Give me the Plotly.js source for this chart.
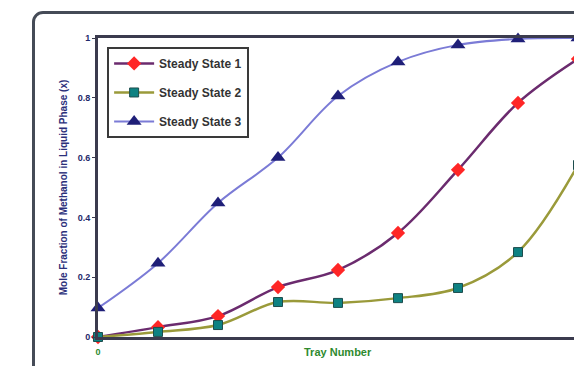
<!DOCTYPE html>
<html>
<head>
<meta charset="utf-8">
<script src="https://cdn.plot.ly/plotly-3.0.1.min.js"></script>
<style>
  html, body { margin: 0; padding: 0; width: 574px; height: 366px; overflow: hidden; background: #fff; }
  #wrap { position: relative; width: 574px; height: 366px; overflow: hidden; }
  #chart { position: absolute; left: 0; top: 0; }
  #frame { position: absolute; left: 32px; top: 11px; width: 700px; height: 500px;
           border: 3px solid #454b57; border-radius: 11px; pointer-events: none; }
</style>
</head>
<body>
<div id="wrap">
  <div id="chart"></div>
  <div id="frame"></div>
</div>
<script>
// Data
const trays = [0, 1, 2, 3, 4, 5, 6, 7, 8];
const steadyState1 = [0.0, 0.033, 0.07, 0.167, 0.224, 0.348, 0.559, 0.783, 0.93];
const steadyState2 = [0.0, 0.017, 0.04, 0.117, 0.114, 0.13, 0.164, 0.284, 0.575];
const steadyState3 = [0.097, 0.247, 0.448, 0.60, 0.806, 0.92, 0.977, 0.997, 1.0];
const seriesNames = ['Steady State 1', 'Steady State 2', 'Steady State 3'];
const yTickVals = [0, 0.2, 0.4, 0.6, 0.8, 1];
const yTickText = ['0', '0.2', '0.4', '0.6', '0.8', '1'];
const xTickVals = [0];
const xTickText = ['0'];
const xTitle = 'Tray Number';
const yTitle = 'Mole Fraction of Methanol in Liquid Phase (x)';

const FONT = 'Liberation Sans, Arial, sans-serif';

const traces = [
  {
    x: trays, y: steadyState1, name: seriesNames[0], legendgroup: 'a',
    mode: 'lines+markers', cliponaxis: false,
    line: { color: '#6b2b6e', width: 2.5, shape: 'spline', smoothing: 1 },
    marker: { symbol: 'diamond', size: 11, color: '#ff2626', line: { width: 0 } }
  },
  {
    x: trays, y: steadyState2, name: seriesNames[1], legendgroup: 'b',
    mode: 'lines+markers', cliponaxis: false,
    line: { color: '#9a9a3a', width: 2.5, shape: 'spline', smoothing: 1 },
    marker: { symbol: 'square', size: 9, color: '#0e8282', line: { width: 1, color: '#1d4d4d' } }
  },
  {
    x: trays, y: steadyState3, name: seriesNames[2], legendgroup: 'c',
    mode: 'lines+markers', cliponaxis: false,
    line: { color: '#7b7bd6', width: 2, shape: 'spline', smoothing: 1 },
    marker: { symbol: 'triangle-up', size: 13, color: '#1f1f78', line: { width: 0 } }
  }
];

const layout = {
  width: 600, height: 366,
  margin: { l: 98, r: 22, t: 38, b: 29 },
  paper_bgcolor: 'rgba(0,0,0,0)', plot_bgcolor: '#ffffff',
  font: { family: FONT, size: 9, color: '#222' },
  showlegend: true,
  legend: {
    x: 0.019, y: 0.97, xanchor: 'left', yanchor: 'top',
    bgcolor: '#ffffff', bordercolor: '#3a3a3a', borderwidth: 2,
    font: { family: FONT, size: 12, color: '#333', weight: 'bold' },
    tracegroupgap: 10, itemwidth: 40
  },
  xaxis: {
    range: [0, 8], tickvals: xTickVals, ticktext: xTickText,
    showgrid: false, zeroline: false, showline: true, mirror: true,
    linecolor: '#3b3b4e', linewidth: 3, ticks: '', ticklabelstandoff: 4,
    tickfont: { family: FONT, size: 9, color: '#2f8a2f', weight: 'bold' },
    fixedrange: true
  },
  yaxis: {
    range: [0, 1], tickvals: yTickVals, ticktext: yTickText,
    showgrid: false, zeroline: false, showline: true, mirror: true,
    linecolor: '#3b3b4e', linewidth: 3, ticks: 'outside', ticklen: 3, tickwidth: 1, tickcolor: '#3b3b4e',
    tickfont: { family: FONT, size: 9, color: '#1f2a6b', weight: 'bold' },
    title: { text: yTitle, standoff: 9, font: { family: FONT, size: 10, color: '#2b2f7a', weight: 'bold' } },
    fixedrange: true
  },
  annotations: [
    {
      text: xTitle, xref: 'paper', yref: 'paper', x: 0.5, y: -0.05,
      xanchor: 'center', yanchor: 'middle', showarrow: false,
      font: { family: FONT, size: 11, color: '#2f8a2f', weight: 'bold' }
    }
  ]
};

Plotly.newPlot('chart', traces, layout, { displayModeBar: false, staticPlot: true });
</script>
</body>
</html>
